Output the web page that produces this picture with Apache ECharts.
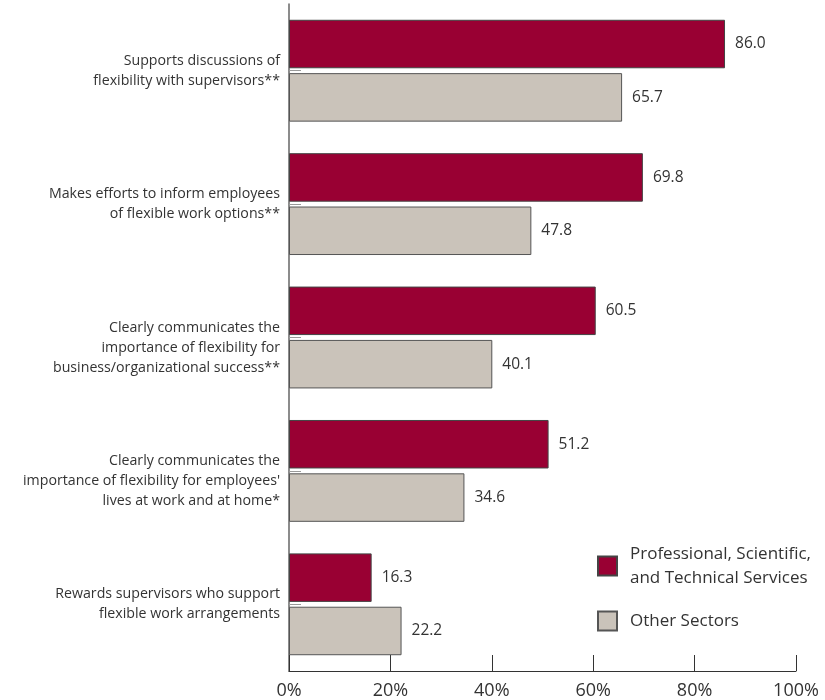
<!DOCTYPE html>
<html>
<head>
<meta charset="utf-8">
<script src="https://cdn.jsdelivr.net/npm/echarts@6/dist/echarts.min.js"></script>
<style>html,body{margin:0;padding:0;background:#fff}#c{width:825px;height:700px}</style>
</head>
<body>
<div id="c"></div>
<script>
const categories = [
  "Supports discussions of\nflexibility with supervisors**",
  "Makes efforts to inform employees\nof flexible work options**",
  "Clearly communicates the\nimportance of flexibility for\nbusiness/organizational success**",
  "Clearly communicates the\nimportance of flexibility for employees'\nlives at work and at home*",
  "Rewards supervisors who support\nflexible work arrangements"
];
const seriesNames = ["Professional, Scientific, and Technical Services", "Other Sectors"];
const professional = [86.0, 69.8, 60.5, 51.2, 16.3];
const otherSectors = [65.7, 47.8, 40.1, 34.6, 22.2];
const xTicks = ["0%", "20%", "40%", "60%", "80%", "100%"];

const FONT = "Open Sans";
const chart = echarts.init(document.getElementById('c'), null, {renderer: 'canvas'});

const labelCfg = {
  show: true, position: 'right', distance: 10,
  color: '#333', fontFamily: FONT, fontSize: 15.5,
  formatter: p => p.value.toFixed(1)
};

chart.setOption({
  animation: false,
  backgroundColor: '#fff',
  grid: {left: 289, right: 29, top: 4, bottom: 29, containLabel: false},
  xAxis: {
    type: 'value', min: 0, max: 100, interval: 20,
    axisLine: {show: true, lineStyle: {color: '#333', width: 1}},
    axisTick: {show: true, inside: true, length: 16, lineStyle: {color: '#333', width: 1}},
    splitLine: {show: false},
    axisLabel: {
      margin: 11, color: '#333', fontFamily: FONT, fontSize: 18,
      formatter: v => xTicks[Math.round(v / 20)]
    }
  },
  yAxis: {
    type: 'category', inverse: true, data: categories,
    axisLine: {show: true, lineStyle: {color: '#666', width: 1.5}},
    axisTick: {show: true, inside: true, alignWithLabel: true, length: 12, lineStyle: {color: '#999', width: 1}},
    axisLabel: {
      margin: 9, color: '#333', fontFamily: FONT, fontSize: 14.2, lineHeight: 20, align: 'right',
      formatter: v => (v.split('\n').length === 3 ? '\n' + v : v)
    }
  },
  legend: [
    {
      data: [seriesNames[0]], orient: 'vertical', left: 597, top: 530, padding: 0,
      itemWidth: 19, itemHeight: 19, icon: 'rect',
      formatter: n => 'Professional, Scientific,\nand Technical Services',
      textStyle: {color: '#333', fontFamily: FONT, fontSize: 17, lineHeight: 24, padding: [24, 0, 0, 8]}
    },
    {
      data: [seriesNames[1]], orient: 'vertical', left: 597, top: 609, padding: 0,
      itemWidth: 19, itemHeight: 19, icon: 'rect',
      textStyle: {color: '#333', fontFamily: FONT, fontSize: 17, lineHeight: 24, padding: [0, 0, 0, 8]}
    }
  ],
  series: [
    {
      name: seriesNames[0], type: 'bar', data: professional,
      barWidth: 48.5, barGap: '10%',
      itemStyle: {color: '#990033', borderColor: '#444', borderWidth: 1},
      label: labelCfg
    },
    {
      name: seriesNames[1], type: 'bar', data: otherSectors,
      barWidth: 48.5, barGap: '10%',
      itemStyle: {color: '#cac3ba', borderColor: '#555', borderWidth: 1},
      label: labelCfg
    }
  ]
});
</script>
</body>
</html>
